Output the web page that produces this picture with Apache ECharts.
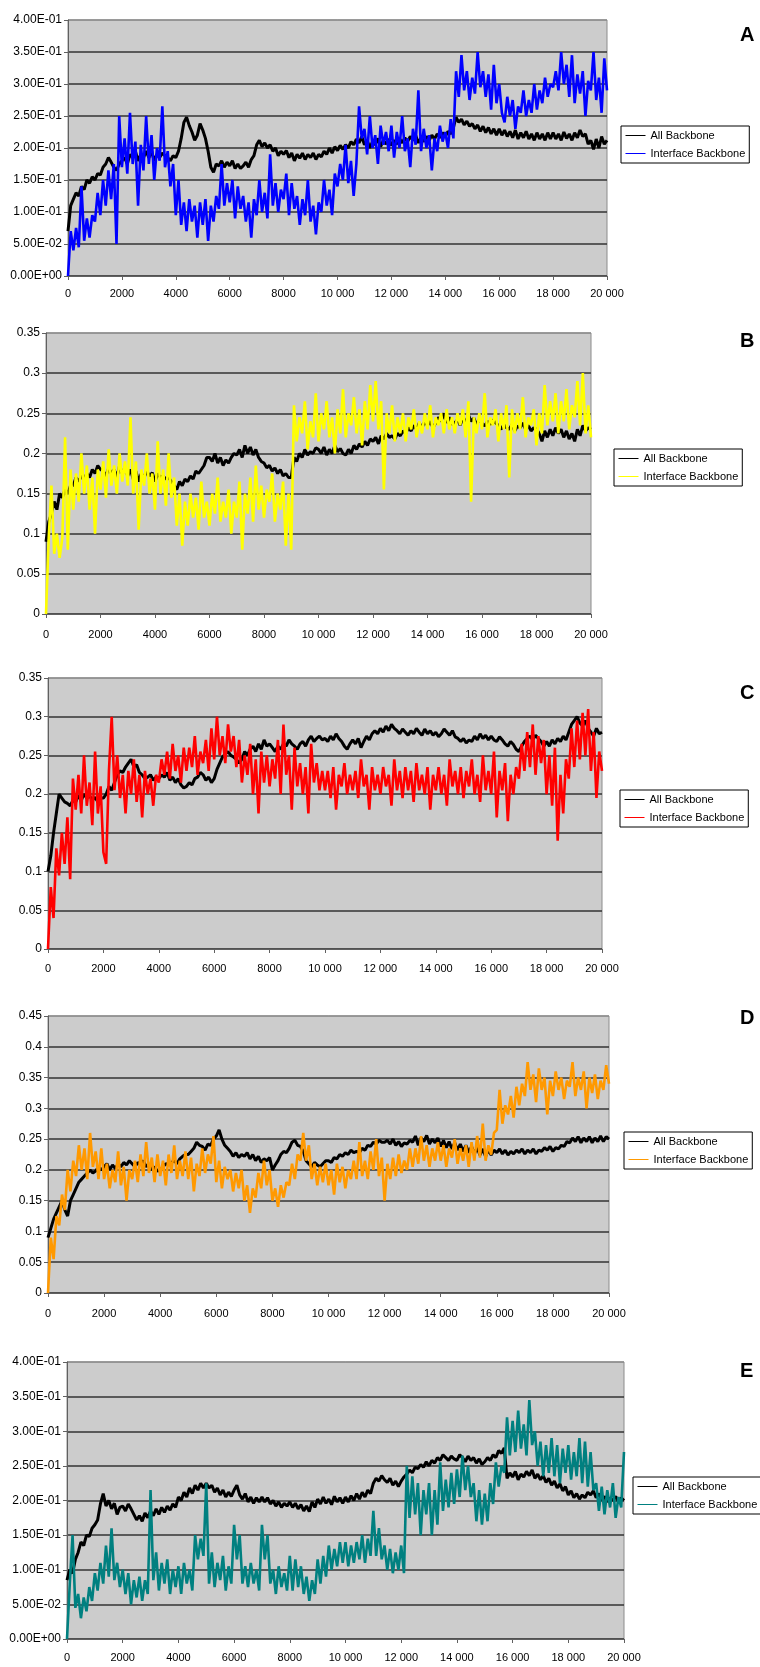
<!DOCTYPE html>
<html>
<head>
<meta charset="utf-8">
<script src="https://cdn.jsdelivr.net/npm/echarts@6/dist/echarts.min.js"></script>
<style>
  html, body { margin: 0; padding: 0; background: #fff; }
  .panel { position: absolute; left: 0; width: 760px; }
</style>
</head>
<body>
<!-- one chart per panel, stacked -->
<div id="chartA" class="panel" style="top:0px;height:320px;"></div>
<div id="chartB" class="panel" style="top:320px;height:340px;"></div>
<div id="chartC" class="panel" style="top:660px;height:330px;"></div>
<div id="chartD" class="panel" style="top:990px;height:340px;"></div>
<div id="chartE" class="panel" style="top:1330px;height:337px;"></div>

<script type="text/javascript">
  // one sample every 100 steps, 0 .. 20000 ; values in thousandths (0.215 -> 215)
  var STEP = 100;
  var seriesNames = ['All Backbone', 'Interface Backbone'];

  // ---- panel A ----
  var allA = [
    70, 110, 120, 130, 125, 140, 135, 150, 145, 155,
    150, 160, 158, 170, 175, 185, 178, 170, 165, 175,
    180, 185, 175, 190, 185, 195, 180, 190, 185, 195,
    185, 195, 180, 190, 185, 192, 188, 185, 180, 188,
    185, 195, 215, 240, 248, 235, 225, 212, 220, 238,
    228, 215, 195, 170, 162, 175, 172, 180, 170, 178,
    172, 180, 168, 175, 168, 172, 178, 170, 182, 188,
    205, 212, 202, 208, 200, 205, 195, 200, 188, 195,
    190, 196, 185, 192, 180, 190, 184, 192, 182, 190,
    185, 192, 182, 190, 186, 195, 190, 200, 192, 202,
    196, 204, 198, 205, 200, 210, 205, 214, 208, 218,
    205, 212, 200, 210, 205, 215, 202, 212, 206, 214,
    204, 212, 206, 215, 208, 216, 210, 218, 212, 220,
    208, 216, 210, 218, 212, 220, 214, 222, 216, 224,
    218, 226, 222, 232, 248, 240, 245, 236, 242, 234,
    238, 230, 236, 226, 234, 224, 232, 222, 230, 220,
    230, 220, 228, 218, 226, 216, 228, 214, 224, 216,
    226, 214, 222, 212, 224, 214, 222, 212, 224, 214,
    224, 214, 222, 212, 225, 215, 222, 212, 224, 216,
    228, 218, 222, 206, 212, 198, 214, 200, 218, 206,
    212
  ];
  var ifaceA = [
    0, 70, 40, 75, 45, 140, 55, 90, 60, 95,
    85, 130, 95, 150, 110, 165, 120, 175, 50, 250,
    170, 215, 160, 255, 175, 210, 110, 205, 165, 250,
    175, 220, 150, 200, 180, 265, 170, 195, 140, 175,
    95, 150, 80, 115, 70, 120, 85, 110, 60, 115,
    80, 120, 55, 110, 85, 125, 105, 175, 110, 145,
    115, 150, 90, 140, 105, 125, 85, 115, 60, 120,
    95, 150, 100, 130, 90, 190, 110, 145, 100, 135,
    120, 160, 95, 145, 105, 125, 80, 120, 95, 150,
    85, 110, 65, 115, 100, 150, 110, 135, 95, 160,
    140, 175, 150, 205, 145, 180, 125, 175, 265, 215,
    230, 190, 250, 200, 220, 175, 235, 205, 225, 195,
    235, 185, 225, 200, 250, 195, 215, 170, 230, 205,
    290, 195, 230, 200, 220, 165, 215, 195, 235, 210,
    225, 200, 245, 215, 320, 280, 345, 290, 320, 275,
    310, 285, 350, 295, 320, 280, 315, 260, 330, 270,
    300, 255, 240, 280, 250, 275, 230, 265, 255, 290,
    250, 275, 255, 300, 260, 290, 270, 310, 280, 300,
    295, 320, 290, 350, 300, 330, 280, 345, 270, 315,
    285, 320, 250, 305, 290, 350, 275, 310, 255, 340,
    290
  ];

  // ---- panel B ----
  var allB = [
    90, 115, 125, 140, 130, 150, 145, 155, 150, 160,
    160, 170, 165, 172, 168, 175, 170, 180, 175, 185,
    180, 178, 172, 182, 175, 180, 170, 185, 175, 180,
    172, 180, 168, 178, 165, 175, 170, 178, 172, 176,
    165, 175, 170, 172, 168, 170, 165, 160, 155, 165,
    160, 168, 165, 172, 168, 178, 175, 180, 185, 195,
    195, 190, 200, 188, 195, 185, 192, 188, 195, 200,
    198, 205, 195, 210, 200, 208, 198, 205, 195, 190,
    188, 182, 185, 178, 182, 175, 180, 172, 175, 170,
    170, 195, 190, 200, 195, 205, 198, 202, 200, 207,
    205, 200, 208, 198, 205, 200, 210, 202, 206, 200,
    198, 205, 200, 210, 205, 212, 208, 215, 210, 218,
    215, 220, 212, 222, 218, 225, 220, 222, 218, 225,
    222, 228, 225, 232, 228, 235, 230, 238, 232, 240,
    235, 240, 232, 238, 245, 240, 250, 238, 245, 236,
    238, 242, 235, 245, 238, 248, 240, 244, 236, 242,
    238, 234, 240, 236, 242, 238, 235, 230, 236, 232,
    230, 236, 228, 234, 232, 238, 230, 235, 228, 232,
    230, 225, 215, 228, 220, 230, 222, 232, 225, 230,
    220, 228, 218, 225, 215, 230, 222, 235, 228, 232,
    230
  ];
  var ifaceB = [
    0, 95, 160, 75, 100, 70, 95, 220, 80, 180,
    130, 175, 140, 200, 150, 185, 130, 170, 100, 180,
    155, 190, 145, 205, 160, 185, 150, 200, 165, 190,
    160, 245, 150, 190, 105, 180, 160, 200, 150, 175,
    130, 215, 150, 180, 135, 200, 145, 170, 110, 150,
    85, 140, 110, 150, 120, 145, 105, 165, 120, 140,
    110, 150, 125, 170, 115, 140, 120, 155, 100, 140,
    120, 165, 80, 150, 125, 170, 115, 185, 130, 160,
    120, 155, 140, 175, 115, 150, 130, 165, 85, 150,
    80, 260, 215, 245, 225, 265, 205, 240, 220, 275,
    215, 250, 230, 265, 220, 245, 200, 255, 225, 280,
    220, 250, 235, 270, 225, 255, 210, 265, 230, 285,
    240, 290, 230, 265, 155, 250, 225, 260, 215, 245,
    225, 250, 215, 245, 230, 255, 220, 240, 225, 250,
    230, 260, 220, 245, 235, 250, 225, 255, 230, 245,
    225, 250, 235, 255, 220, 265, 140, 245, 225, 250,
    230, 275, 220, 245, 235, 255, 215, 250, 230, 260,
    170, 255, 225, 250, 230, 270, 220, 245, 235, 255,
    210, 250, 225, 285, 235, 265, 240, 275, 225, 265,
    240, 280, 230, 260, 245, 290, 235, 300, 225, 260,
    220
  ];

  // ---- panel C ----
  var allC = [
    100, 120, 150, 175, 200, 195, 190, 188, 185, 192,
    190, 198, 192, 200, 195, 198, 192, 196, 190, 195,
    195, 200, 210, 205, 215, 225, 230, 228, 235, 240,
    245, 235, 238, 228, 225, 220, 222, 225, 218, 222,
    220, 225, 222, 228, 218, 222, 215, 220, 212, 208,
    210, 215, 212, 220, 222, 228, 225, 218, 222, 215,
    220, 232, 240, 248, 252, 255, 250, 248, 245, 240,
    245, 255, 250, 258, 262, 255, 265, 258, 270, 262,
    265, 260, 255, 262, 258, 265, 262, 270, 265, 262,
    258, 265, 268, 262, 270, 275, 268, 272, 275, 270,
    272, 268, 275, 270, 278, 272, 268, 262, 258, 265,
    270, 265, 272, 260, 268, 275, 270, 278, 282, 278,
    285, 280, 288, 282, 290, 285, 282, 278, 284, 280,
    276, 282, 278, 285, 280, 276, 284, 278, 282, 276,
    280, 274, 278, 284, 280, 276, 282, 274, 272, 268,
    272, 266, 270, 268, 275, 270, 278, 272, 276, 270,
    275, 270, 268, 274, 270, 265, 262, 268, 264, 258,
    255, 262, 268, 272, 275, 270, 276, 272, 268, 262,
    268, 262, 270, 265, 272, 268, 275, 270, 280, 290,
    295, 300, 292, 288, 295, 285, 280, 275, 285, 278,
    280
  ];
  var ifaceC = [
    0, 80, 40, 130, 95, 150, 110, 170, 90, 220,
    180, 225, 175, 250, 185, 215, 160, 255, 175, 210,
    125, 110, 230, 300, 205, 250, 195, 225, 175, 230,
    200, 245, 190, 225, 170, 230, 200, 220, 185, 225,
    215, 245, 225, 255, 220, 265, 230, 250, 215, 260,
    230, 260, 235, 275, 225, 255, 240, 270, 230, 285,
    245, 300, 250, 275, 240, 290, 255, 275, 235, 270,
    215, 250, 225, 265, 200, 245, 175, 255, 215, 250,
    210, 245, 220, 270, 200, 290, 225, 250, 180, 260,
    210, 240, 200, 235, 175, 265, 215, 240, 205, 230,
    205, 230, 195, 235, 180, 225, 210, 240, 200, 225,
    205, 230, 195, 245, 210, 225, 180, 235, 205, 225,
    200, 235, 210, 225, 185, 245, 205, 230, 195, 235,
    205, 230, 190, 240, 205, 225, 200, 235, 180, 225,
    205, 235, 200, 225, 185, 245, 210, 230, 200, 235,
    195, 230, 210, 245, 200, 225, 190, 250, 205, 230,
    200, 255, 170, 230, 205, 240, 165, 225, 200, 235,
    220, 265, 230, 280, 235, 290, 225, 275, 240, 270,
    200, 250, 185, 260, 140, 225, 175, 245, 220, 285,
    235, 295, 245, 305, 250, 310, 230, 280, 195, 255,
    230
  ];

  // ---- panel D ----
  var allD = [
    90, 105, 120, 130, 140, 150, 135, 125, 150, 160,
    170, 180, 185, 190, 195, 200, 195, 198, 205, 200,
    205, 210, 200, 208, 202, 210, 205, 212, 208, 215,
    210, 205, 212, 208, 215, 205, 210, 200, 205, 198,
    200, 205, 210, 208, 212, 215, 210, 218, 222, 225,
    225, 230, 235, 245, 240, 238, 232, 242, 240, 250,
    255, 265, 250, 240, 235, 230, 222, 228, 220, 225,
    222, 228, 218, 225, 215, 222, 212, 218, 215, 220,
    200, 208, 215, 225, 230, 228, 235, 245, 248, 240,
    238, 230, 215, 210, 205, 212, 208, 205, 210, 215,
    215, 212, 220, 218, 225, 222, 228, 225, 232, 228,
    230, 228, 235, 232, 240, 238, 245, 242, 248, 245,
    245, 248, 242, 250, 240, 246, 238, 244, 242, 248,
    245, 255, 240, 252, 246, 256, 242, 250, 244, 252,
    238, 248, 236, 246, 234, 244, 232, 242, 230, 240,
    228, 238, 226, 236, 224, 234, 222, 232, 224, 232,
    228, 234, 226, 232, 224, 230, 226, 232, 228, 234,
    226, 232, 228, 234, 226, 232, 230, 236, 232, 238,
    230, 236, 234, 240, 238, 246, 244, 252, 246, 254,
    244, 252, 246, 254, 244, 252, 246, 255, 246, 254,
    250
  ];
  var ifaceD = [
    0, 90, 55, 125, 110, 160, 135, 200, 165, 215,
    190, 240, 200, 235, 185, 260, 205, 230, 185, 235,
    185, 210, 170, 200, 180, 230, 175, 205, 150, 200,
    185, 215, 180, 225, 190, 245, 195, 220, 180, 225,
    190, 215, 175, 225, 195, 240, 185, 215, 190, 230,
    185, 220, 165, 210, 190, 235, 195, 225, 210, 255,
    180, 215, 170, 205, 185, 200, 165, 195, 170, 200,
    150, 175, 130, 170, 155, 195, 170, 215, 175, 200,
    150, 170, 140, 175, 155, 180, 175, 210, 185, 225,
    215, 260, 215, 240, 185, 210, 175, 205, 180, 210,
    175, 200, 160, 210, 180, 205, 170, 200, 185, 215,
    185, 245, 190, 215, 185, 230, 200, 250, 190, 220,
    150, 210, 185, 220, 190, 225, 195, 215, 200, 235,
    205, 235, 210, 255, 215, 240, 205, 235, 215, 245,
    215, 240, 205, 235, 220, 250, 210, 235, 215, 240,
    205, 245, 215, 255, 220, 275, 215, 240, 225, 260,
    265, 330, 275, 305, 290, 320, 285, 335, 305, 340,
    320, 375, 330, 355, 310, 365, 330, 350, 290, 345,
    320, 360, 330, 350, 315, 345, 335, 375, 320, 350,
    330, 360, 300, 350, 325, 355, 315, 345, 330, 370,
    340
  ];

  // ---- panel E ----
  var allE = [
    85, 100, 95, 115, 125, 140, 135, 150, 148, 160,
    165, 172, 195, 210, 192, 200, 188, 196, 180, 190,
    192, 185, 195, 188, 180, 172, 178, 170, 182, 175,
    185, 178, 188, 180, 190, 183, 192, 186, 195, 190,
    205, 200, 212, 205, 218, 210, 222, 215, 225, 218,
    225, 218, 222, 212, 218, 208, 215, 205, 212, 206,
    215, 222, 208, 202, 210, 198, 205, 196, 204, 198,
    205, 198, 204, 195, 200, 192, 198, 190, 196, 192,
    198, 190, 196, 188, 194, 185, 192, 184, 198, 190,
    202, 195, 205, 196, 202, 194, 206, 198, 204, 196,
    205, 198, 207, 200, 210, 202, 212, 205, 215, 210,
    225, 232, 228, 236, 230, 226, 232, 222, 228, 220,
    228, 234, 238, 244, 240, 248, 246, 252, 248, 256,
    250, 258, 254, 262, 258, 266, 262, 258, 264, 260,
    258, 266, 262, 256, 264, 258, 262, 254, 260, 252,
    256, 262, 258, 266, 262, 272, 268, 276, 232, 240,
    234, 242, 230, 238, 234, 242, 236, 244, 232, 238,
    230, 236, 226, 232, 222, 228, 218, 224, 214, 220,
    208, 214, 204, 210, 202, 208, 204, 212, 208, 214,
    204, 210, 200, 206, 198, 204, 200, 206, 198, 204,
    200
  ];
  var ifaceE = [
    0, 80, 150, 45, 65, 30, 60, 40, 75, 55,
    95, 70, 110, 80, 135, 90, 160, 85, 110, 75,
    100, 65, 95, 50, 85, 60, 90, 55, 85, 65,
    215, 85, 125, 70, 110, 80, 115, 65, 100, 75,
    105, 65, 110, 80, 100, 70, 150, 115, 145, 120,
    225, 80, 125, 75, 110, 85, 120, 70, 105, 80,
    165, 115, 150, 80, 105, 75, 110, 80, 100, 70,
    165, 115, 150, 80, 100, 65, 105, 75, 95, 70,
    120, 70, 115, 75, 105, 65, 90, 55, 85, 65,
    115, 80, 120, 90, 135, 100, 130, 105, 140, 110,
    140, 105, 135, 110, 140, 115, 150, 110, 145, 120,
    185, 120, 160, 115, 135, 100, 130, 95, 125, 100,
    135, 95, 250, 175, 235, 180, 225, 150, 215, 180,
    225, 150, 215, 165, 255, 185, 230, 190, 240, 195,
    245, 205, 265, 215, 250, 205, 225, 170, 215, 165,
    210, 170, 225, 195, 255, 220, 250, 240, 320, 265,
    315, 270, 330, 275, 310, 265, 345, 280, 300, 250,
    285, 235, 280, 240, 290, 235, 280, 225, 275, 240,
    280, 230, 270, 235, 290, 225, 285, 220, 270, 215,
    225, 185, 220, 180, 215, 190, 225, 175, 205, 190,
    270
  ];

  var FONT = 'Liberation Sans, Arial, sans-serif';

  // 0.05 -> "5.00E-02"
  function sci(v) {
    if (Math.abs(v) < 1e-12) return '0.00E+00';
    var e = Math.floor(Math.log10(Math.abs(v)) + 1e-9);
    var m = v / Math.pow(10, e);
    var ee = Math.abs(e);
    return m.toFixed(2) + 'E' + (e < 0 ? '-' : '+') + (ee < 10 ? '0' : '') + ee;
  }
  function plainY(v) {
    return String(Math.round(v * 100) / 100);
  }
  // 12000 -> "12 000"
  function fmtX(v) {
    if (v >= 10000) return Math.floor(v / 1000) + ' 000';
    return String(v);
  }
  function toPoints(vals) {
    return vals.map(function (v, i) { return [i * STEP, v / 1000]; });
  }

  var panels = [
    { id: 'chartA', all: allA, iface: ifaceA, color: '#0000ff', yMax: 0.4, yFmt: sci,
      grid: { left: 68, top: 20, width: 539, height: 256 }, legend: { left: 621, top: 126 },
      label: 'A', labelTop: 20, xMargin: 12 },
    { id: 'chartB', all: allB, iface: ifaceB, color: '#ffff00', yMax: 0.35, yFmt: plainY,
      grid: { left: 46, top: 13, width: 545, height: 281 }, legend: { left: 614, top: 129 },
      label: 'B', labelTop: 6, xMargin: 15 },
    { id: 'chartC', all: allC, iface: ifaceC, color: '#ff0000', yMax: 0.35, yFmt: plainY,
      grid: { left: 48, top: 18, width: 554, height: 271 }, legend: { left: 620, top: 130 },
      label: 'C', labelTop: 18, xMargin: 14 },
    { id: 'chartD', all: allD, iface: ifaceD, color: '#ff9900', yMax: 0.45, yFmt: plainY,
      grid: { left: 48, top: 26, width: 561, height: 277 }, legend: { left: 624, top: 142 },
      label: 'D', labelTop: 13, xMargin: 15 },
    { id: 'chartE', all: allE, iface: ifaceE, color: '#008080', yMax: 0.4, yFmt: sci,
      grid: { left: 67, top: 32, width: 557, height: 277 }, legend: { left: 633, top: 147 },
      label: 'E', labelTop: 26, xMargin: 13 }
  ];

  panels.forEach(function (p) {
    var chart = echarts.init(document.getElementById(p.id));
    var nTicks = Math.round(p.yMax / 0.05) + 1;
    var splitColors = [];
    for (var i = 0; i < nTicks; i++) splitColors.push(i === nTicks - 1 ? '#8c8c8c' : '#333333');

    var option = {
      animation: false,
      title: {
        text: p.label, left: 735, top: p.labelTop,
        textStyle: { fontSize: 20, fontWeight: 'bold', color: '#000', fontFamily: FONT }
      },
      grid: {
        left: p.grid.left, top: p.grid.top, width: p.grid.width, height: p.grid.height,
        show: true, backgroundColor: '#cccccc', borderColor: '#8c8c8c', borderWidth: 1
      },
      legend: {
        data: seriesNames, orient: 'vertical', left: p.legend.left, top: p.legend.top,
        backgroundColor: '#fff', borderColor: '#000', borderWidth: 1,
        padding: [4, 4, 4, 4], itemGap: 7, itemWidth: 20, itemHeight: 12,
        itemStyle: { opacity: 0 },
        lineStyle: { width: 1 },
        textStyle: { fontSize: 11, color: '#000', fontFamily: FONT }
      },
      xAxis: {
        type: 'value', min: 0, max: 20000, interval: 2000,
        axisLine: { show: true, lineStyle: { color: '#606060' } },
        axisTick: { show: true, length: 4, lineStyle: { color: '#606060' } },
        splitLine: { show: false },
        axisLabel: { margin: p.xMargin, fontSize: 11, color: '#000', fontFamily: FONT, formatter: fmtX }
      },
      yAxis: {
        type: 'value', min: 0, max: p.yMax, interval: 0.05,
        axisLine: { show: true, lineStyle: { color: '#606060' } },
        axisTick: { show: true, length: 4, lineStyle: { color: '#606060' } },
        splitLine: { show: true, lineStyle: { color: splitColors, width: 1.5 } },
        axisLabel: { margin: 6, fontSize: 12, color: '#000', fontFamily: FONT, formatter: p.yFmt }
      },
      series: [
        {
          name: seriesNames[0], type: 'line', data: toPoints(p.all),
          symbol: 'none', showSymbol: false, sampling: null,
          lineStyle: { color: '#000', width: 3 }, itemStyle: { color: '#000' }
        },
        {
          name: seriesNames[1], type: 'line', data: toPoints(p.iface),
          symbol: 'none', showSymbol: false, sampling: null,
          lineStyle: { color: p.color, width: 2.6 }, itemStyle: { color: p.color }
        }
      ]
    };
    chart.setOption(option);
  });
</script>
</body>
</html>
